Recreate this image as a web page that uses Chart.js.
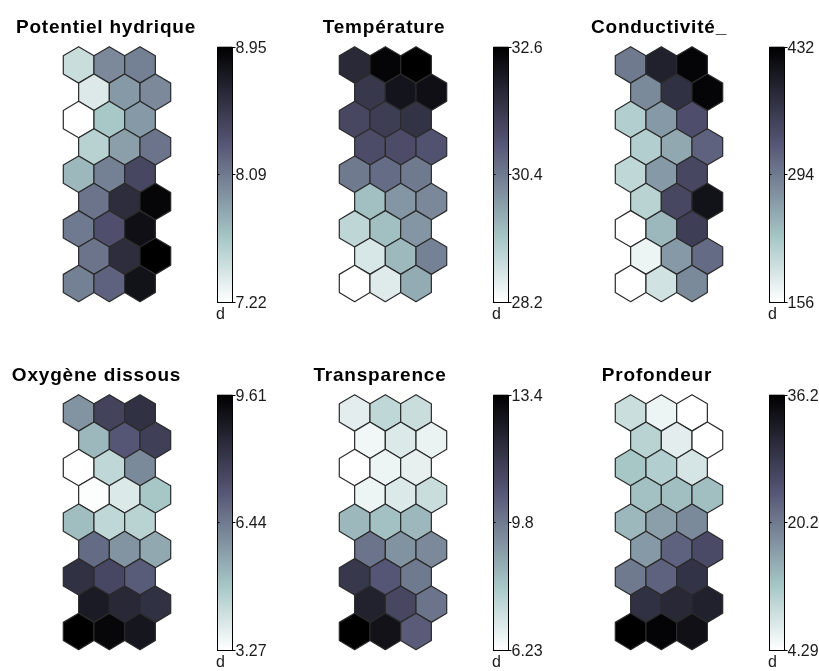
<!DOCTYPE html>
<html>
<head>
<meta charset="utf-8">
<script src="https://cdn.jsdelivr.net/npm/chart.js@4.4.0/dist/chart.umd.min.js"></script>
<style>
  body { margin: 0; background: #fff; overflow: hidden; }
  #wrap { position: relative; width: 819px; height: 671px; }
  .panel { position: absolute; width: 267px; height: 335px; }
</style>
</head>
<body>
<div id="wrap">
  <div class="panel" style="left:0px;top:0px"><canvas id="c0" width="267" height="335"></canvas></div>
  <div class="panel" style="left:276px;top:0px"><canvas id="c1" width="267" height="335"></canvas></div>
  <div class="panel" style="left:552px;top:0px"><canvas id="c2" width="267" height="335"></canvas></div>
  <div class="panel" style="left:0px;top:348px"><canvas id="c3" width="267" height="335"></canvas></div>
  <div class="panel" style="left:276px;top:348px"><canvas id="c4" width="267" height="335"></canvas></div>
  <div class="panel" style="left:552px;top:348px"><canvas id="c5" width="267" height="335"></canvas></div>
</div>
<script>
'use strict';

// 9 rows x 3 cells, read top row first, left to right
let potentielHydrique = [
  7.48, 8.00, 8.05,
  7.39, 7.91, 8.00,
  7.22, 7.65, 7.91,
  7.57, 7.88, 8.12,
  7.74, 8.05, 8.40,
  8.12, 8.60, 8.90,
  8.09, 8.34, 8.83,
  8.12, 8.60, 8.95,
  8.05, 8.22, 8.81
];
let temperature = [
  31.8, 32.5, 32.6,
  31.5, 32.2, 32.3,
  31.2, 31.4, 31.6,
  31.1, 31.1, 31.0,
  30.4, 30.6, 30.4,
  29.4, 30.0, 30.2,
  29.0, 29.4, 30.0,
  28.7, 29.5, 30.3,
  28.2, 28.6, 29.7
];
let conductivite = [
  294, 391, 426,
  280, 371, 426,
  217, 266, 335,
  217, 253, 316,
  206, 266, 344,
  211, 344, 410,
  156, 239, 355,
  170, 266, 308,
  156, 192, 280
];
let oxygeneDissous = [
  5.93, 7.71, 8.22,
  5.17, 7.20, 7.83,
  3.27, 4.41, 6.12,
  3.33, 3.90, 4.86,
  5.05, 4.41, 4.54,
  6.76, 5.93, 5.49,
  8.22, 7.58, 7.07,
  8.85, 8.47, 8.22,
  9.61, 9.42, 8.98
];
let transparence = [
  6.80, 7.52, 7.31,
  6.52, 6.95, 6.66,
  6.23, 6.59, 6.73,
  6.59, 6.95, 7.31,
  8.38, 8.17, 8.38,
  9.96, 9.24, 9.46,
  11.61, 10.68, 9.82,
  12.32, 11.11, 9.96,
  13.40, 12.83, 10.53
];
let profondeur = [
  9.08, 5.89, 4.29,
  10.67, 6.84, 4.29,
  12.27, 11.31, 8.12,
  12.91, 13.22, 13.22,
  13.86, 16.42, 18.65,
  17.05, 22.80, 25.67,
  20.25, 22.80, 28.86,
  29.18, 30.46, 31.41,
  36.20, 35.56, 33.97
];

let titles = ['Potentiel hydrique', 'Température', 'Conductivité_', 'Oxygène dissous', 'Transparence', 'Profondeur'];
let planes = [potentielHydrique, temperature, conductivite, oxygeneDissous, transparence, profondeur];
let cbMin = [7.22, 28.2, 156, 3.27, 6.23, 4.29];
let cbMax = [8.95, 32.6, 432, 9.61, 13.4, 36.2];
let tickLabels = [
  ['7.22', '8.09', '8.95'],
  ['28.2', '30.4', '32.6'],
  ['156', '294', '432'],
  ['3.27', '6.44', '9.61'],
  ['6.23', '9.8', '13.4'],
  ['4.29', '20.2', '36.2']
];
let cbUnit = 'd';

let titleCenters = [106, 108, 107, 96.5, 104, 105];

const FONT = '"Liberation Sans", Arial, Helvetica, sans-serif';

// flipped MATLAB "bone": 0 -> white, 1 -> black
function boneRev(s) {
  s = Math.min(1, Math.max(0, s));
  let t = 1 - s;
  let hr = Math.min(1, t / 0.375);
  let hg = Math.min(1, Math.max(0, (t - 0.375) / 0.375));
  let hb = Math.max(0, (t - 0.75) / 0.25);
  let r = (7 * t + hb) / 8;
  let g = (7 * t + hg) / 8;
  let b = (7 * t + hr) / 8;
  return 'rgb(' + Math.round(r * 255) + ',' + Math.round(g * 255) + ',' + Math.round(b * 255) + ')';
}

const hexCorners = [[0, -2 / 3], [0.5, -1 / 3], [0.5, 1 / 3], [0, 2 / 3], [-0.5, 1 / 3], [-0.5, -1 / 3]];

const componentPlane = {
  id: 'componentPlane',
  afterDatasetsDraw(chart, args, opts) {
    let ctx = chart.ctx;
    let xs = chart.scales.x;
    let ys = chart.scales.y;
    let lo = opts.min, hi = opts.max;
    ctx.save();
    ctx.lineWidth = 1.2;
    ctx.lineJoin = 'round';
    ctx.strokeStyle = '#2b2b2b';
    chart.data.datasets[0].data.forEach(function (p) {
      ctx.beginPath();
      hexCorners.forEach(function (c, k) {
        let px = xs.getPixelForValue(p.x + c[0]);
        let py = ys.getPixelForValue(p.y + c[1]);
        if (k === 0) ctx.moveTo(px, py); else ctx.lineTo(px, py);
      });
      ctx.closePath();
      ctx.fillStyle = boneRev((p.v - lo) / (hi - lo));
      ctx.fill();
      ctx.stroke();
    });
    ctx.restore();
  },
  afterDraw(chart, args, opts) {
    let ctx = chart.ctx;
    let cb = chart.scales.cb;
    let top = cb.getPixelForValue(opts.max);
    let bottom = cb.getPixelForValue(opts.min);
    let left = 217.5, w = 15;

    ctx.save();
    let grad = ctx.createLinearGradient(0, top, 0, bottom);
    for (let i = 0; i <= 32; i++) {
      grad.addColorStop(i / 32, boneRev(1 - i / 32));
    }
    ctx.fillStyle = grad;
    ctx.fillRect(left, top, w, bottom - top);
    ctx.strokeStyle = '#000';
    ctx.lineWidth = 1;
    ctx.strokeRect(left, Math.round(top) + 0.5, w, Math.round(bottom - top));

    ctx.font = '16px ' + FONT;
    ctx.fillStyle = '#1a1a1a';
    ctx.textBaseline = 'middle';
    ctx.textAlign = 'left';
    let vals = [opts.min, (opts.min + opts.max) / 2, opts.max];
    vals.forEach(function (v, i) {
      let y = Math.round(cb.getPixelForValue(v)) + 0.5;
      ctx.beginPath();
      ctx.moveTo(left + w, y);
      ctx.lineTo(left + w + 3, y);
      ctx.moveTo(left, y);
      ctx.lineTo(left + 2, y);
      ctx.stroke();
      ctx.fillText(opts.labels[i], left + w + 3, y + 1);
    });
    ctx.fillText(cbUnit, 216, 315);

    ctx.font = 'bold 19px ' + FONT;
    ctx.fillStyle = '#000';
    ctx.textAlign = 'center';
    ctx.textBaseline = 'alphabetic';
    ctx.letterSpacing = '0.8px';
    ctx.fillText(opts.title, opts.titleX, 33);
    ctx.restore();
  }
};

planes.forEach(function (values, n) {
  let pts = values.map(function (v, i) {
    let row = Math.floor(i / 3);
    let col = i % 3;
    return { x: col + (row % 2 ? 0.5 : 0), y: row, v: v };
  });
  new Chart(document.getElementById('c' + n), {
    type: 'scatter',
    data: {
      datasets: [{ data: pts, pointRadius: 0, pointHoverRadius: 0 }]
    },
    options: {
      responsive: false,
      animation: false,
      events: [],
      layout: { padding: { left: 63.3, right: 96.3, top: 46.7, bottom: 33.3 } },
      scales: {
        x: { type: 'linear', min: -0.5, max: 3, display: false },
        y: { type: 'linear', min: -2 / 3, max: 8 + 2 / 3, reverse: true, display: false },
        cb: { type: 'linear', axis: 'y', position: 'right', min: cbMin[n], max: cbMax[n], display: false }
      },
      plugins: {
        legend: { display: false },
        tooltip: { enabled: false },
        componentPlane: {
          min: cbMin[n],
          max: cbMax[n],
          labels: tickLabels[n],
          title: titles[n],
          titleX: titleCenters[n]
        }
      }
    },
    plugins: [componentPlane]
  });
});
</script>
</body>
</html>
